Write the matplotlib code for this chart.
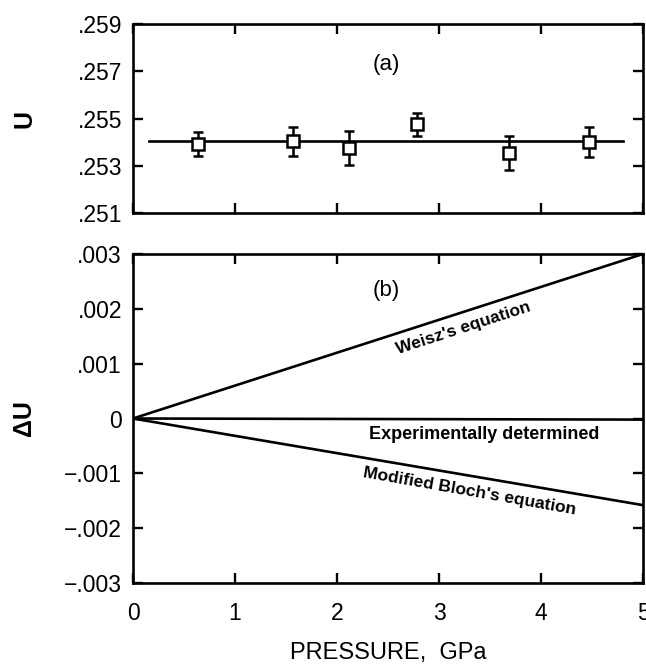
import matplotlib
matplotlib.use("Agg")
import matplotlib.pyplot as plt
import numpy as np

plt.rcParams['font.family'] = ['Liberation Sans', 'DejaVu Sans']

# Panel (a) data
pressure_a = [0.64, 1.57, 2.12, 2.78, 3.69, 4.47]
u_vals = [0.25393, 0.25403, 0.25375, 0.25475, 0.25354, 0.25400]
u_err = [0.0005, 0.0006, 0.0007, 0.0005, 0.0007, 0.00065]
fit_x = [0.16, 4.80]
fit_u = [0.25403, 0.25403]

# Panel (b) lines
line_x = [0.0, 5.0]
weisz = [0.0, 0.003]
experimental = [0.0, -0.00002]
bloch = [0.0, -0.00158]

u_ticks = [0.251, 0.253, 0.255, 0.257, 0.259]
u_ticklabels = ['.251', '.253', '.255', '.257', '.259']
du_ticks = [-0.003, -0.002, -0.001, 0.0, 0.001, 0.002, 0.003]
du_ticklabels = ['\u2212.003', '\u2212.002', '\u2212.001', '0', '.001', '.002', '.003']
x_ticks = [0, 1, 2, 3, 4, 5]

W, H = 646, 671
fig = plt.figure(figsize=(W / 100, H / 100), dpi=100)

left = 133 / W
width = (643 - 133) / W
ax1 = fig.add_axes([left, 1 - 213 / H, width, (213 - 24) / H])
ax2 = fig.add_axes([left, 1 - 583 / H, width, (583 - 254) / H])

lw = 1.9
tick_fs = 16.5
for ax in (ax1, ax2):
    for s in ax.spines.values():
        s.set_linewidth(lw)
    ax.tick_params(direction='in', length=7, width=1.7, top=True, right=True,
                   labelsize=tick_fs)
    ax.set_xlim(0, 5)
    ax.set_xticks(x_ticks)

# Panel (a)
ax1.plot(fit_x, fit_u, color='black', lw=1.9)
ax1.errorbar(pressure_a, u_vals, yerr=u_err, fmt='s', mfc='white', mec='black',
             mew=1.8, ms=8, ecolor='black', elinewidth=1.8, capsize=3.5,
             capthick=1.8, zorder=3)
ax1.set_ylim(0.251, 0.259)
ax1.set_yticks(u_ticks)
ax1.set_yticklabels(u_ticklabels)
ax1.tick_params(axis='x', labelbottom=False)
ax1.tick_params(axis='y', pad=8)
ax1.text(2.48, 0.25728, '(a)', fontsize=16, ha='center', va='center')
ax1.set_ylabel('U', fontsize=18, fontweight='bold')
ax1.yaxis.set_label_coords(-0.19, 0.5)

# Panel (b)
ax2.plot(line_x, weisz, color='black', lw=1.9)
ax2.plot(line_x, experimental, color='black', lw=1.9)
ax2.plot(line_x, bloch, color='black', lw=1.9)
ax2.set_ylim(-0.003, 0.003)
ax2.set_yticks(du_ticks)
ax2.set_yticklabels(du_ticklabels)
ax2.tick_params(axis='y', pad=8)
ax2.tick_params(axis='x', pad=14)
ax2.text(2.48, 0.00234, '(b)', fontsize=16, ha='center', va='center')
ax2.text(3.24, 0.00164, "Weisz's equation", fontsize=12.5, fontweight='bold',
         rotation=18, ha='center', va='center', rotation_mode='anchor')
ax2.text(3.44, -0.0003, 'Experimentally determined', fontsize=13,
         fontweight='bold', ha='center', va='center')
ax2.text(3.30, -0.00133, "Modified Bloch's equation", fontsize=12.5,
         fontweight='bold', rotation=-10, ha='center', va='center',
         rotation_mode='anchor')
ax2.set_ylabel('\u0394U', fontsize=18, fontweight='bold')
ax2.yaxis.set_label_coords(-0.19, 0.5)
ax2.set_xlabel('PRESSURE,  GPa', fontsize=17, labelpad=12)

fig.savefig('out.png', dpi=100)
